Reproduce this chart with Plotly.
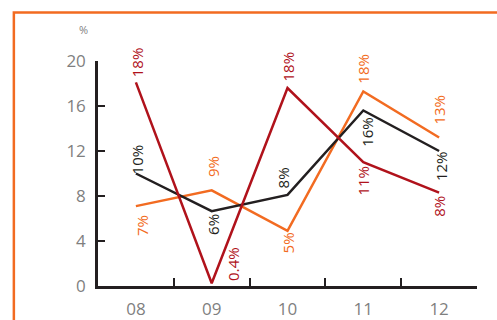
import plotly.graph_objects as go

categories = ["08", "09", "10", "11", "12"]
red_vals = [18.1, 0.25, 17.6, 11.0, 8.3]
black_vals = [10.0, 6.65, 8.1, 15.6, 12.0]
orange_vals = [7.1, 8.5, 4.9, 17.3, 13.2]
red_labels = ["18%", "0.4%", "18%", "11%", "8%"]
black_labels = ["10%", "6%", "8%", "16%", "12%"]
orange_labels = ["7%", "9%", "5%", "18%", "13%"]
y_ticks = [0, 4, 8, 12, 16, 20]

RED = "#b0121b"
BLACK = "#231f20"
ORANGE = "#f26b21"
GRAY = "#7f7f7f"
FONT = "Open Sans"

# label offsets (px) relative to the point: (xshift, yshift)
red_off = [(1, 20), (21, 19), (0, 21), (0, -18), (0, -14)]
black_off = [(1, 14), (1, -13), (-5, 17), (3, -21), (2, -15)]
orange_off = [(6, -19), (2, 24), (0, -12), (0, 23), (-1, 28)]

fig = go.Figure()
series = [
    (orange_vals, orange_labels, orange_off, ORANGE),
    (black_vals, black_labels, black_off, BLACK),
    (red_vals, red_labels, red_off, RED),
]
annotations = []
for vals, labels, offs, col in series:
    fig.add_trace(go.Scatter(x=categories, y=vals, mode="lines",
                             line=dict(color=col, width=2.5), hoverinfo="skip"))
    for i, (v, t, (dx, dy)) in enumerate(zip(vals, labels, offs)):
        annotations.append(dict(x=i, y=v, xref="x", yref="y", text=t,
                                showarrow=False, textangle=-90,
                                xanchor="center", yanchor="middle",
                                xshift=dx, yshift=dy,
                                font=dict(family=FONT, size=15, color=col)))

annotations.append(dict(x=-0.037, y=1.138, xref="paper", yref="paper", text="%",
                        showarrow=False, xanchor="center", yanchor="middle",
                        font=dict(family=FONT, size=11, color=GRAY)))

fig.update_layout(
    width=497, height=320,
    margin=dict(l=98, r=20, t=61, b=34, autoexpand=False),
    paper_bgcolor="white", plot_bgcolor="white",
    showlegend=False,
    annotations=annotations,
    shapes=[dict(type="rect", xref="paper", yref="paper",
                 x0=-0.222, x1=1.3, y0=-0.4, y1=1.216,
                 line=dict(color=ORANGE, width=2.5), layer="below")],
    xaxis=dict(type="category", range=[-0.5, 4.5], showgrid=False,
               automargin=False,
               showline=True, linecolor=BLACK, linewidth=2.5,
               ticks="inside", tickson="boundaries", ticklen=8,
               tickwidth=2, tickcolor=BLACK, ticklabelstandoff=6,
               tickfont=dict(family=FONT, size=17, color=GRAY)),
    yaxis=dict(range=[0, 20], tickvals=y_ticks, showgrid=False, zeroline=False,
               automargin=False,
               showline=True, linecolor=BLACK, linewidth=2.5,
               ticks="inside", ticklen=7, tickwidth=2, tickcolor=BLACK,
               ticklabelstandoff=6,
               tickfont=dict(family=FONT, size=17, color=GRAY)),
)

fig.write_html("out.html")
